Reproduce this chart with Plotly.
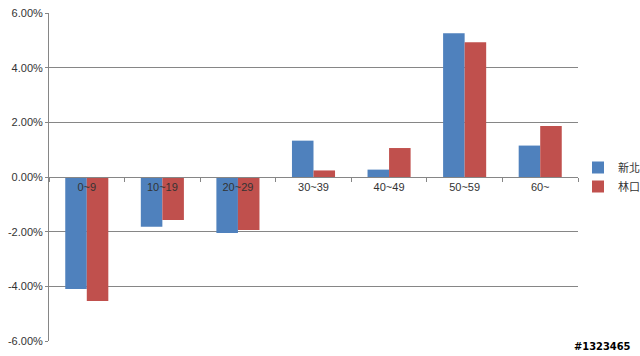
import plotly.graph_objects as go

categories = ["0~9", "10~19", "20~29", "30~39", "40~49", "50~59", "60~"]
xinbei = [-4.10, -1.82, -2.05, 1.33, 0.27, 5.26, 1.15]
linkou = [-4.54, -1.57, -1.94, 0.24, 1.06, 4.93, 1.87]
series_names = ["新北", "林口"]
y_ticks = [-6, -4, -2, 0, 2, 4, 6]
y_tick_text = ["-6.00%", "-4.00%", "-2.00%", "0.00%", "2.00%", "4.00%", "6.00%"]
watermark = "#1323465"

font_family = "Liberation Sans, Noto Sans CJK TC, sans-serif"

fig = go.Figure()
fig.add_trace(go.Bar(x=categories, y=xinbei, name=series_names[0],
                     marker=dict(color="#4F81BD", line=dict(width=0))))
fig.add_trace(go.Bar(x=categories, y=linkou, name=series_names[1],
                     marker=dict(color="#C0504D", line=dict(width=0))))

fig.update_layout(
    width=640, height=356,
    margin=dict(l=49, r=62, t=13, b=15, autoexpand=False),
    paper_bgcolor="white", plot_bgcolor="white",
    barmode="group", bargap=0.43, bargroupgap=0,
    font=dict(family=font_family, size=11, color="#333333"),
    showlegend=True,
    legend=dict(x=1.0, y=0.5, xanchor="left", yanchor="middle",
                font=dict(size=11, color="#333333"), itemwidth=30,
                tracegroupgap=0, bgcolor="rgba(0,0,0,0)"),
    xaxis=dict(
        type="category", anchor="free", position=0.5,
        showline=True, linecolor="#868686", linewidth=1,
        ticks="outside", tickson="boundaries", ticklen=4, tickcolor="#868686",
        showgrid=False, zeroline=False, automargin=False,
        tickfont=dict(size=11, color="#333333"),
        layer="above traces",
    ),
    yaxis=dict(
        range=[-6, 6], tickvals=y_ticks, ticktext=y_tick_text,
        showline=True, linecolor="#868686", linewidth=1,
        ticks="outside", ticklen=3, tickcolor="#868686",
        showgrid=True, gridcolor="#868686", gridwidth=1,
        zeroline=False, automargin=False,
        tickfont=dict(size=11, color="#333333"),
    ),
)

fig.add_annotation(
    text="<b>" + watermark + "</b>", xref="paper", yref="paper",
    x=1.104, y=-0.043, xanchor="right", yanchor="bottom", showarrow=False,
    font=dict(size=11, color="black", family="DejaVu Sans Condensed, DejaVu Sans"),
)

fig.write_html("out.html",
               config={"displayModeBar": False},
               post_script="document.body.style.margin='0px';document.body.style.overflow='hidden';")
